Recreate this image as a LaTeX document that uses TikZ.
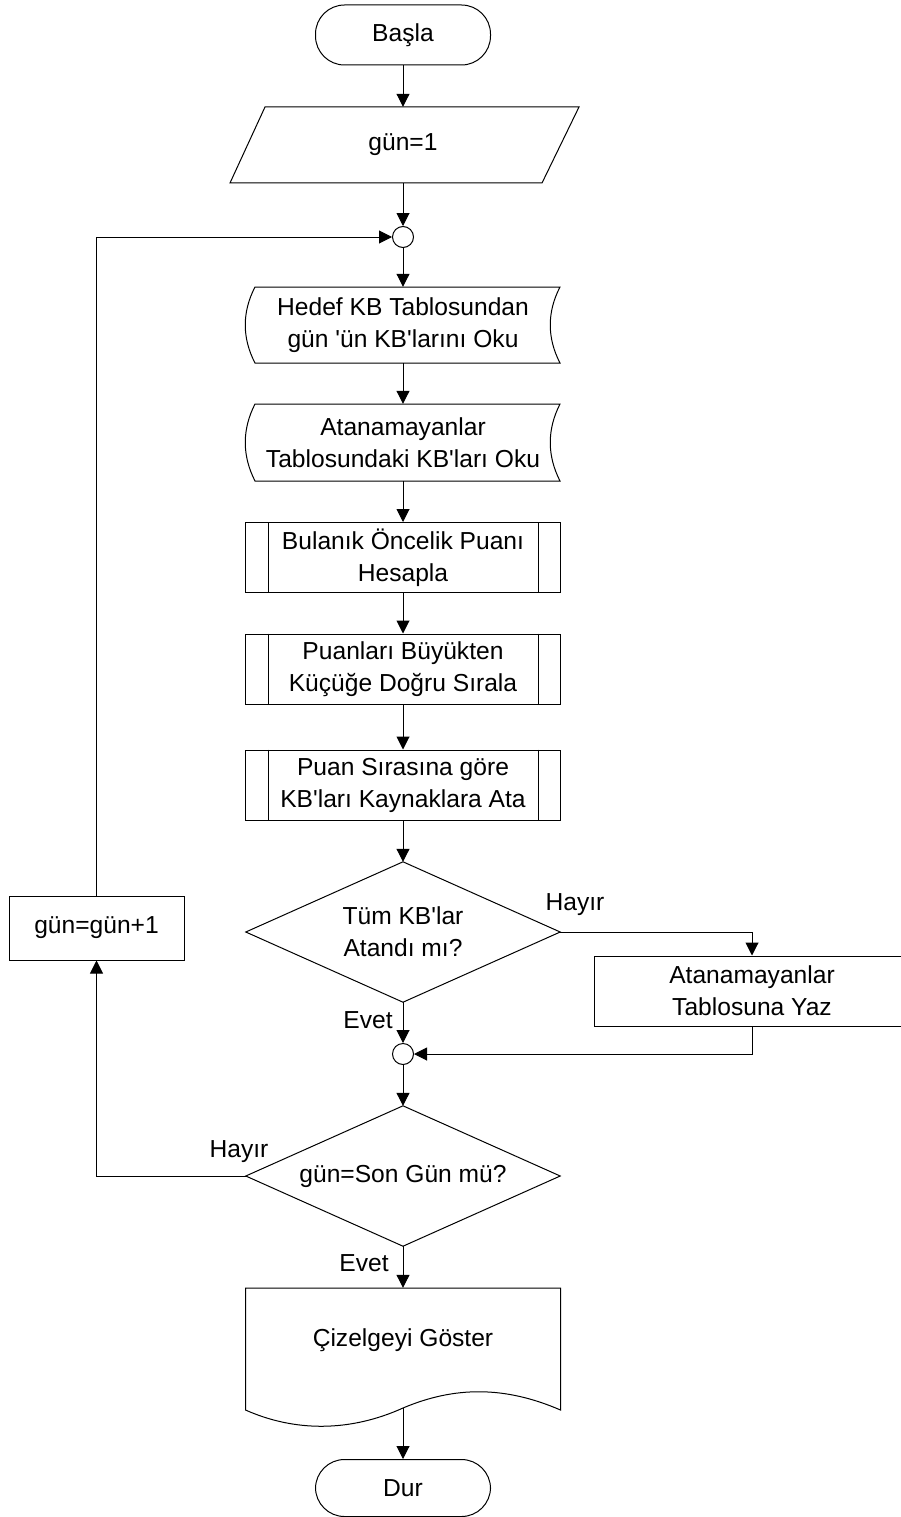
\documentclass[tikz,border=0pt]{standalone}
\usepackage{fontspec}
\setmainfont{Liberation Sans}
\usetikzlibrary{arrows.meta}
\newcommand{\kesme}{\textquotesingle}
\begin{document}
\begin{tikzpicture}[x=1pt,y=-1pt,
  plain/.style={draw=black, line width=1pt},
  holder/.style={inner sep=0pt, align=center, font=\fontsize{24.6}{32}\selectfont},
  flow/.style={draw=black, line width=1pt, -{Triangle[length=13pt,width=13pt]}},
  junction/.style={circle, draw=black, line width=1pt, fill=white, minimum size=21pt, inner sep=0pt},
  terminal/.style={holder, draw=black, line width=1pt, rounded corners=29pt, minimum width=175pt, minimum height=60pt},
  procbox/.style={holder, draw=black, line width=1pt, minimum width=315pt, minimum height=70pt},
  tag/.style={inner sep=0pt, font=\fontsize{24.6}{32}\selectfont}
]
\useasboundingbox (0,0) rectangle (901,1517);
\fill[white] (0,0) rectangle (901,1517);

% start / input
\node[terminal] (start) at (403,35) {Başla};
\node[holder, minimum width=312pt, minimum height=76pt] (init) at (403,145) {gün=1};
\draw[plain, shift={(init.center)}] (-138,-38) -- (176,-38) -- (139,38) -- (-173,38) -- cycle;

\node[junction] (j1) at (403,237) {};

% stored-data reads
\node[holder, minimum width=305pt, minimum height=76pt] (read1) at (403,325) {Hedef KB Tablosundan\\gün \kesme ün KB\kesme larını Oku};
\draw[plain, shift={(read1.center)}] (-148,-38) -- (157,-38) .. controls (144,-13) and (144,13) .. (157,38)
  -- (-148,38) .. controls (-161,13) and (-161,-13) .. (-148,-38) -- cycle;

\node[holder, minimum width=305pt, minimum height=77pt] (read2) at (403,442.5) {Atanamayanlar\\Tablosundaki KB\kesme ları Oku};
\draw[plain, shift={(read2.center)}] (-148,-38.5) -- (157,-38.5) .. controls (144,-13) and (144,13) .. (157,38.5)
  -- (-148,38.5) .. controls (-161,13) and (-161,-13) .. (-148,-38.5) -- cycle;

% predefined processes
\node[procbox] (proc1) at (403,557.5) {Bulanık Öncelik Puanı\\Hesapla};
\node[procbox] (proc2) at (403,669) {Puanları Büyükten\\Küçüğe Doğru Sırala};
\node[procbox] (proc3) at (403,785) {Puan Sırasına göre\\KB\kesme ları Kaynaklara Ata};
\foreach \p in {proc1,proc2,proc3}{
  \draw[plain] ([xshift=23pt]\p.north west) -- ([xshift=23pt]\p.south west);
  \draw[plain] ([xshift=-23pt]\p.north east) -- ([xshift=-23pt]\p.south east);
}

% first decision
\node[holder, minimum width=314pt, minimum height=140pt] (dec1) at (403,932) {Tüm KB\kesme lar\\Atandı mı?};
\draw[plain] (dec1.north) -- (dec1.east) -- (dec1.south) -- (dec1.west) -- cycle;

\node[procbox, minimum width=316pt] (yaz) at (752,991) {Atanamayanlar\\Tablosuna Yaz};
\node[junction] (j2) at (403,1054) {};

% second decision
\node[holder, minimum width=314pt, minimum height=140pt] (dec2) at (403,1176) {gün=Son Gün mü?};
\draw[plain] (dec2.north) -- (dec2.east) -- (dec2.south) -- (dec2.west) -- cycle;

\node[holder, draw=black, line width=1pt, minimum width=175pt, minimum height=64pt] (inc) at (96.5,928) {gün=gün+1};

% output document
\node[holder, minimum width=315pt, minimum height=104pt] (doc) at (403,1340) {Çizelgeyi Göster};
\draw[plain, shift={(doc.center)}] (-157.5,-52) -- (157.5,-52) -- (157.5,70)
  .. controls (102,46) and (52,46) .. (0,68)
  .. controls (-53,92) and (-108,92) .. (-157.5,70) -- cycle;
\path (doc.center) ++(0,68) coordinate (docb);

\node[terminal, minimum height=57pt] (stop) at (403,1488) {Dur};

% labels
\node[tag] (h1) at (575,905) {Hayır};
\node[tag] (e1) at (368,1020) {Evet};
\node[tag] (h2) at (239,1152) {Hayır};
\node[tag] (e2) at (364,1263) {Evet};

% connectors
\draw[flow] (start.south) -- (init.north);
\draw[flow] (init.south) -- (j1.north);
\draw[flow] (j1.south) -- (read1.north);
\draw[flow] (read1.south) -- (read2.north);
\draw[flow] (read2.south) -- (proc1.north);
\draw[flow] (proc1.south) -- (proc2.north);
\draw[flow] (proc2.south) -- (proc3.north);
\draw[flow] (proc3.south) -- (dec1.north);
\draw[flow] (dec1.east) -| (yaz.north);
\draw[flow] (dec1.south) -- (j2.north);
\draw[flow] (yaz.south) |- (j2.east);
\draw[flow] (j2.south) -- (dec2.north);
\draw[flow] (dec2.west) -| (inc.south);
\draw[flow] (inc.north) |- (j1.west);
\draw[flow] (dec2.south) -- (doc.north);
\draw[flow] (docb) -- (stop.north);
\end{tikzpicture}
\end{document}
